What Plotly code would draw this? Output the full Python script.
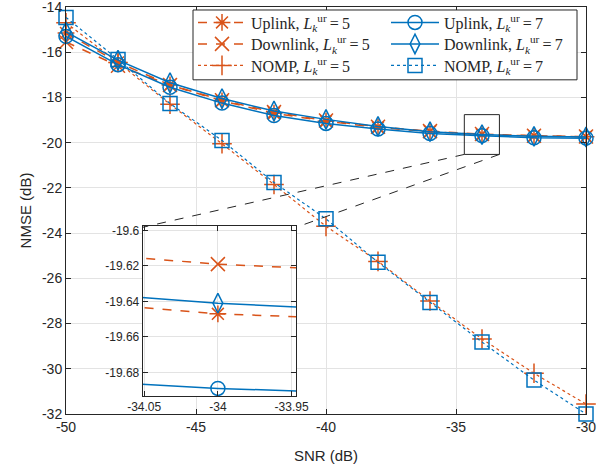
import plotly.graph_objects as go

snr = [-50, -48, -46, -44, -42, -40, -38, -36, -34, -32, -30]
uplink_l5 = [-15.15, -16.45, -17.45, -18.15, -18.7, -19.05, -19.33, -19.51, -19.647, -19.707, -19.74]
downlink_l5 = [-15.55, -16.6, -17.45, -18.12, -18.65, -19.02, -19.3, -19.49, -19.619, -19.695, -19.73]
nomp_l5 = [-14.7, -16.45, -18.3, -20.05, -21.85, -23.7, -25.25, -27.0, -28.68, -30.2, -31.56]
uplink_l7 = [-15.3, -16.55, -17.55, -18.25, -18.8, -19.15, -19.4, -19.6, -19.689, -19.785, -19.8]
downlink_l7 = [-15.1, -16.35, -17.35, -18.05, -18.6, -18.97, -19.28, -19.515, -19.641, -19.72, -19.75]
nomp_l7 = [-14.46, -16.32, -18.27, -19.9, -21.76, -23.37, -25.29, -27.07, -28.82, -30.5, -32.0]

x_ticks = [-50, -45, -40, -35, -30]
y_ticks = [-32, -30, -28, -26, -24, -22, -20, -18, -16, -14]
inset_x_ticks = [-34.05, -34, -33.95]
inset_y_ticks = [-19.68, -19.66, -19.64, -19.62, -19.6]

ORANGE = "#D95319"
BLUE = "#0072BD"

def lab(name, l):
    return f"{name}, <i>L</i><sub><i>k</i></sub><sup>ur</sup>\u2009=\u2009{l}"

def txt(v):
    return "%g" % v

W, H = 598, 471
ML, MR, MT, MB = 66, 12, 6, 57
pw, ph = W - ML - MR, H - MT - MB

def px_x(p):
    return (p - ML) / pw

def px_y(p):
    return (H - MB - p) / ph

# name, L, data, colour, dash, symbol, width, legend id, legend column x px, row centre y px, in inset
series = [
    ("Uplink", 5, uplink_l5, ORANGE, "dash", "asterisk-open", 1.5, "legend", 193, 22.5, True),
    ("Downlink", 5, downlink_l5, ORANGE, "dash", "x-thin-open", 1.5, "legend2", 193, 44.0, True),
    ("NOMP", 5, nomp_l5, ORANGE, "dot", "cross-thin-open", 1.2, "legend3", 193, 65.5, False),
    ("Uplink", 7, uplink_l7, BLUE, "solid", "circle-open", 1.5, "legend4", 386, 22.5, True),
    ("Downlink", 7, downlink_l7, BLUE, "solid", "diamond-tall-open", 1.5, "legend5", 386, 44.0, True),
    ("NOMP", 7, nomp_l7, BLUE, "dot", "square-open", 1.2, "legend6", 386, 65.5, False),
]

fig = go.Figure()
for name, l, ys, col, dash, sym, w, leg, lx, ly, inset in series:
    fig.add_trace(go.Scatter(
        x=snr, y=ys, mode="lines+markers", name=lab(name, l), legend=leg,
        line=dict(color=col, dash=dash, width=w), cliponaxis=False,
        marker=dict(symbol=sym, size=14, color=col, line=dict(color=col, width=1.5)),
        xaxis="x", yaxis="y"))
for name, l, ys, col, dash, sym, w, leg, lx, ly, inset in series:
    if inset:
        fig.add_trace(go.Scatter(
            x=snr, y=ys, mode="lines+markers", showlegend=False,
            line=dict(color=col, dash=dash, width=w),
            marker=dict(symbol=sym, size=14, color=col, line=dict(color=col, width=1.5)),
            xaxis="x2", yaxis="y2"))

axis_common = dict(showline=True, linecolor="#262626", linewidth=1, mirror="ticks",
                   ticks="inside", ticklen=5, tickcolor="#262626",
                   showgrid=True, gridcolor="#e3e3e3", gridwidth=1, zeroline=False,
                   ticklabeloverflow="allow", automargin=False)

legend_font = dict(family="Liberation Serif, Times New Roman, serif", size=16, color="#262626")

layout_legends = {}
for name, l, ys, col, dash, sym, w, leg, lx, ly, inset in series:
    layout_legends[leg] = dict(x=px_x(lx), y=px_y(ly), xanchor="left", yanchor="middle",
                               itemwidth=48, bgcolor="rgba(0,0,0,0)", borderwidth=0,
                               font=legend_font)

fig.update_layout(
    width=W, height=H,
    margin=dict(l=ML, r=MR, t=MT, b=MB),
    paper_bgcolor="white", plot_bgcolor="white",
    font=dict(family="Liberation Sans, Arial, sans-serif", size=14, color="#262626"),
    xaxis=dict(range=[-50, -30], tickvals=x_ticks, ticktext=[txt(v) for v in x_ticks], domain=[0, 1],
               title=dict(text="SNR (dB)", font=dict(size=15), standoff=16), **axis_common),
    yaxis=dict(range=[-32, -14], tickvals=y_ticks, ticktext=[txt(v) for v in y_ticks], domain=[0, 1],
               title=dict(text="NMSE (dB)", font=dict(size=15), standoff=6), **axis_common),
    xaxis2=dict(range=[-34.051, -33.947], tickvals=inset_x_ticks,
                ticktext=[txt(v) for v in inset_x_ticks], domain=[px_x(142.7), px_x(296)], anchor="y2",
                tickfont=dict(size=12), **axis_common),
    yaxis2=dict(range=[-19.6933, -19.5976], tickvals=inset_y_ticks,
                ticktext=[txt(v) for v in inset_y_ticks],
                domain=[px_y(396), px_y(225.7)], anchor="x2", tickfont=dict(size=12), **axis_common),
    showlegend=True,
    **layout_legends,
)

# legend frame
fig.add_shape(type="rect", xref="paper", yref="paper",
              x0=px_x(193), x1=px_x(577), y0=px_y(79), y1=px_y(9),
              line=dict(color="#262626", width=1), fillcolor="white", layer="above")

# zoom rectangle and connector lines (main data coordinates)
rect_x = [-34.68, -33.33]
rect_y = [-20.52, -18.76]
inset_left, inset_right, inset_top = -47.04, -41.14, -23.74
fig.add_shape(type="rect", xref="x", yref="y", x0=rect_x[0], x1=rect_x[1], y0=rect_y[0], y1=rect_y[1],
              line=dict(color="#262626", width=1))
fig.add_shape(type="line", xref="x", yref="y", x0=rect_x[0], y0=rect_y[0], x1=inset_left, y1=inset_top,
              line=dict(color="#262626", width=1, dash="dash"))
fig.add_shape(type="line", xref="x", yref="y", x0=rect_x[1], y0=rect_y[0], x1=inset_right, y1=inset_top,
              line=dict(color="#262626", width=1, dash="dash"))

fig.write_html("out.html")
